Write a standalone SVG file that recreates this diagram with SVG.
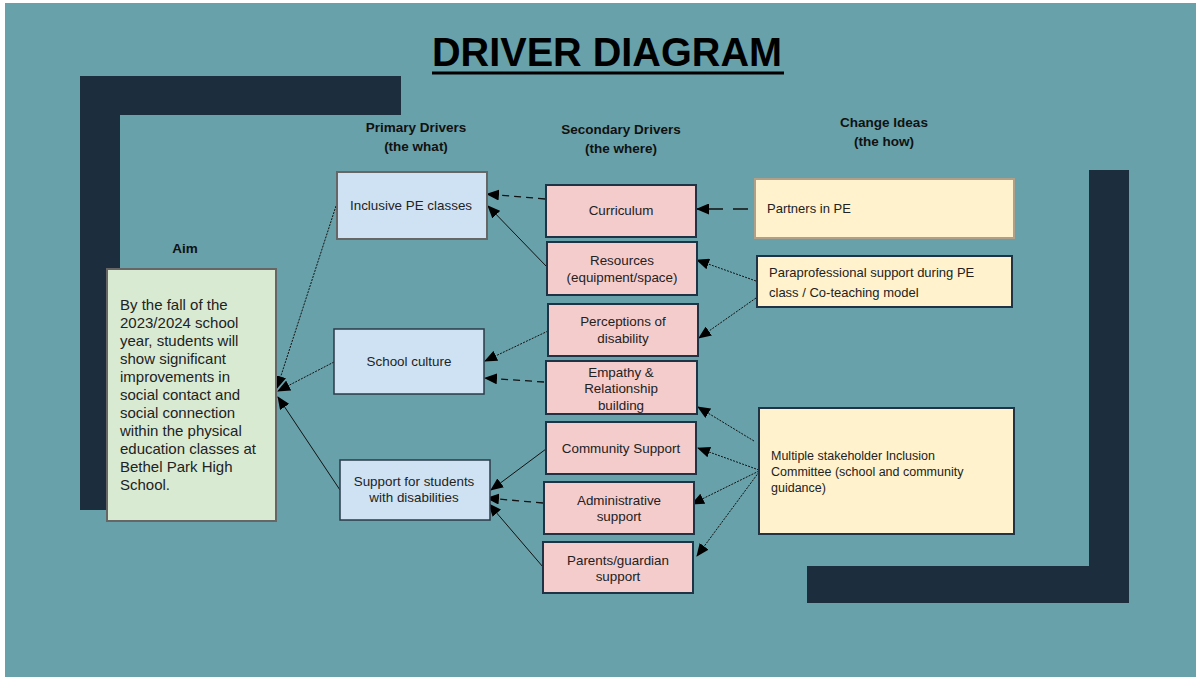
<svg xmlns="http://www.w3.org/2000/svg" width="1196" height="677" viewBox="0 0 1196 677">
<defs>
<style>
.bg{fill:#68a1aa}
.frame{fill:#1c2d3e}
.t{font-family:"Liberation Sans",Arial,sans-serif;fill:#222;}
.h{font-family:"Liberation Sans",Arial,sans-serif;font-weight:bold;font-size:13.5px;fill:#111;text-anchor:middle}
.n{font-size:13.4px;text-anchor:middle}
.aim{fill:#d9ead3;stroke:#666;stroke-width:2}
.pri{fill:#cfe2f3;stroke:#666;stroke-width:2}
.pri2{fill:#cfe2f3;stroke:#2a3a4a;stroke-width:1.5}
.sec{fill:#f4cccc;stroke:#1f3347;stroke-width:2}
.chg{fill:#fff2cc;stroke:#1f3347;stroke-width:2}
.chg2{fill:#fff2cc;stroke:#b0a08a;stroke-width:2}
.c{fill:none;stroke:#111;stroke-width:1}
.dot{stroke-dasharray:2 1.2}
.dash{stroke-dasharray:7 5;stroke-width:1.3}
.ldash{stroke-dasharray:15 10;stroke-width:1.3}
</style>
<marker id="ah" markerUnits="userSpaceOnUse" markerWidth="13" markerHeight="11" refX="12" refY="5.5" orient="auto">
<path d="M0,0 L13,5.5 L0,11 z" fill="#000"/>
</marker>
</defs>
<rect x="0" y="0" width="1196" height="677" fill="#ffffff"/>
<rect class="bg" x="5" y="3" width="1191" height="674"/>
<g id="frames">
<rect class="frame" x="80" y="76" width="321" height="39"/>
<rect class="frame" x="80" y="76" width="40" height="434"/>
<rect class="frame" x="1089" y="170" width="40" height="433"/>
<rect class="frame" x="807" y="566" width="322" height="37"/>
</g>
<g id="title">
<text class="t" x="607" y="66" font-size="40" font-weight="bold" text-anchor="middle" textLength="350" lengthAdjust="spacingAndGlyphs" style="fill:#000">DRIVER DIAGRAM</text>
<rect x="432" y="71.5" width="352" height="3" fill="#000"/>
</g>
<g id="headers">
<text class="h" x="416" y="132">Primary Drivers</text>
<text class="h" x="416" y="151">(the what)</text>
<text class="h" x="621" y="134">Secondary Drivers</text>
<text class="h" x="621" y="153">(the where)</text>
<text class="h" x="884" y="127">Change Ideas</text>
<text class="h" x="884" y="146">(the how)</text>
<text class="h" x="185" y="253" font-size="14">Aim</text>
</g>
<g id="connectors">
<line class="c dot" x1="336" y1="206" x2="277" y2="388" marker-end="url(#ah)"/>
<line class="c dot" x1="334" y1="362" x2="278" y2="391" marker-end="url(#ah)"/>
<line class="c" x1="340" y1="490" x2="278" y2="397" marker-end="url(#ah)"/>
<line class="c dash" x1="545" y1="199" x2="487" y2="194" marker-end="url(#ah)"/>
<line class="c" x1="547" y1="267" x2="488" y2="206" marker-end="url(#ah)"/>
<line class="c dot" x1="548" y1="331" x2="485" y2="361" marker-end="url(#ah)"/>
<line class="c dash" x1="544" y1="382" x2="485" y2="378" marker-end="url(#ah)"/>
<line class="c" x1="546" y1="449" x2="491" y2="490" marker-end="url(#ah)"/>
<line class="c dash" x1="543" y1="503" x2="487" y2="498" marker-end="url(#ah)"/>
<line class="c" x1="543" y1="567" x2="489" y2="504" marker-end="url(#ah)"/>
<line class="c ldash" x1="748" y1="209" x2="697" y2="209" marker-end="url(#ah)"/>
<line class="c dot" x1="756" y1="281" x2="697" y2="260" marker-end="url(#ah)"/>
<line class="c dot" x1="756" y1="298" x2="699" y2="338" marker-end="url(#ah)"/>
<line class="c dot" x1="754" y1="441" x2="698" y2="407" marker-end="url(#ah)"/>
<line class="c dot" x1="759" y1="470" x2="698" y2="448" marker-end="url(#ah)"/>
<line class="c dot" x1="759" y1="471" x2="692" y2="504" marker-end="url(#ah)"/>
<line class="c dot" x1="759" y1="472" x2="697" y2="556" marker-end="url(#ah)"/>
</g>
<g id="aim">
<rect class="aim" x="107" y="269" width="169" height="252"/>
<text class="t" x="120" y="310" font-size="15">
<tspan x="120" y="310">By the fall of the</tspan>
<tspan x="120" y="328">2023/2024 school</tspan>
<tspan x="120" y="346">year, students will</tspan>
<tspan x="120" y="364">show significant</tspan>
<tspan x="120" y="382">improvements in</tspan>
<tspan x="120" y="400">social contact and</tspan>
<tspan x="120" y="418">social connection</tspan>
<tspan x="120" y="436">within the physical</tspan>
<tspan x="120" y="454">education classes at</tspan>
<tspan x="120" y="472">Bethel Park High</tspan>
<tspan x="120" y="490">School.</tspan>
</text>
</g>
<g id="p-inclusive">
<rect class="pri" x="337" y="172" width="150" height="67"/>
<text class="t n" x="411" y="210">Inclusive PE classes</text>
</g>
<g id="p-culture">
<rect class="pri2" x="334" y="329" width="150" height="65"/>
<text class="t n" x="409" y="366">School culture</text>
</g>
<g id="p-support">
<rect class="pri2" x="340" y="460" width="150" height="60"/>
<text class="t n" x="414" y="486">Support for students</text>
<text class="t n" x="414" y="502">with disabilities</text>
</g>
<g id="s-curriculum">
<rect class="sec" x="546" y="185" width="150" height="52"/>
<text class="t n" x="621" y="215">Curriculum</text>
</g>
<g id="s-resources">
<rect class="sec" x="547" y="242" width="150" height="53"/>
<text class="t n" x="622" y="265">Resources</text>
<text class="t n" x="622" y="282">(equipment/space)</text>
</g>
<g id="s-perceptions">
<rect class="sec" x="548" y="304" width="150" height="52"/>
<text class="t n" x="623" y="326">Perceptions of</text>
<text class="t n" x="623" y="343">disability</text>
</g>
<g id="s-empathy">
<rect class="sec" x="546" y="361" width="151" height="53"/>
<text class="t n" x="621" y="377">Empathy &amp;</text>
<text class="t n" x="621" y="393">Relationship</text>
<text class="t n" x="621" y="410">building</text>
</g>
<g id="s-community">
<rect class="sec" x="546" y="422" width="150" height="52"/>
<text class="t n" x="621" y="453">Community Support</text>
</g>
<g id="s-admin">
<rect class="sec" x="544" y="482" width="150" height="52"/>
<text class="t n" x="619" y="505">Administrative</text>
<text class="t n" x="619" y="521">support</text>
</g>
<g id="s-parents">
<rect class="sec" x="543" y="542" width="150" height="51"/>
<text class="t n" x="618" y="565">Parents/guardian</text>
<text class="t n" x="618" y="581">support</text>
</g>
<g id="c-partners">
<rect class="chg2" x="755" y="179" width="259" height="59"/>
<text class="t" x="767" y="213" font-size="13">Partners in PE</text>
</g>
<g id="c-para">
<rect class="chg" x="757" y="256" width="255" height="51"/>
<text class="t" x="769" y="277" font-size="13">Paraprofessional support during PE</text>
<text class="t" x="769" y="297" font-size="13">class / Co-teaching model</text>
</g>
<g id="c-committee">
<rect class="chg" x="759" y="408" width="255" height="126"/>
<text class="t" x="771" y="460" font-size="12.5">Multiple stakeholder Inclusion</text>
<text class="t" x="771" y="476" font-size="12.5">Committee (school and community</text>
<text class="t" x="771" y="492" font-size="12.5">guidance)</text>
</g>
</svg>
